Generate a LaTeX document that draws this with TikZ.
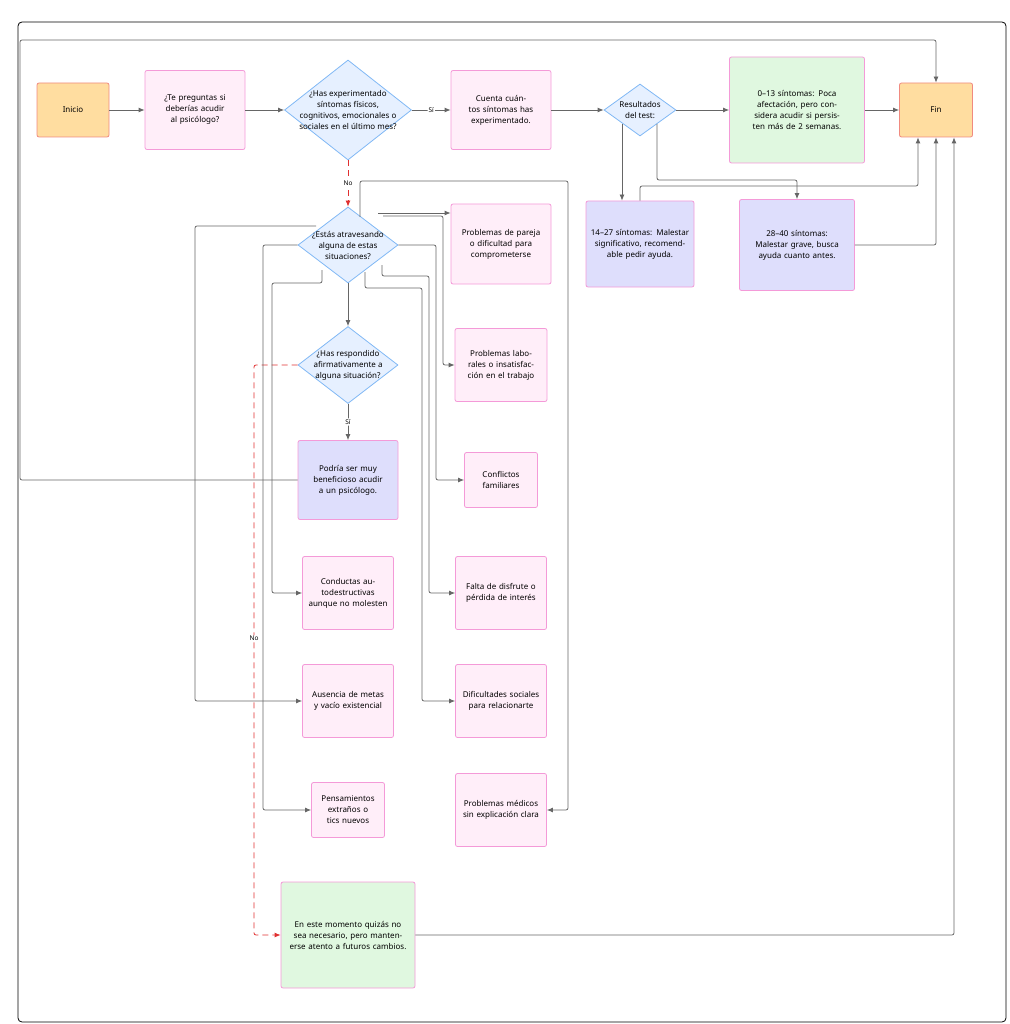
\documentclass[tikz,border=0pt]{standalone}
\usepackage{fontspec}
\setmainfont{Noto Sans}
\usetikzlibrary{shapes.geometric,arrows.meta}
\definecolor{pkf}{HTML}{FFEEF9}\definecolor{pkb}{HTML}{F49AD8}
\definecolor{lvf}{HTML}{DEDEFC}\definecolor{grf}{HTML}{E0F8E0}
\definecolor{orf}{HTML}{FFDDA0}\definecolor{orb}{HTML}{F08A80}
\definecolor{dmf}{HTML}{E6F0FF}\definecolor{dmb}{HTML}{80B8F5}
\definecolor{ln}{HTML}{666666}\definecolor{rd}{HTML}{E03030}
\begin{document}
\begin{tikzpicture}[x=1pt,y=-1pt,
 every node/.style={font=\fontsize{8}{11}\selectfont,align=center},
 box/.style={draw=pkb,fill=pkf,rounded corners=2pt,line width=0.8pt,inner sep=2pt},
 lav/.style={box,fill=lvf},grn/.style={box,fill=grf},
 ora/.style={draw=orb,fill=orf,rounded corners=2pt,line width=0.8pt},
 dia/.style={diamond,draw=dmb,fill=dmf,line width=0.8pt,inner sep=0pt,aspect=1.3},
 ar/.style={draw=ln,line width=0.8pt,-{Latex[length=6pt,width=5pt]},rounded corners=2pt},
 rar/.style={draw=rd,line width=0.8pt,dashed,dash pattern=on 6pt off 4pt,-{Latex[length=6pt,width=5pt]},rounded corners=2pt},
 lab/.style={fill=white,inner sep=1pt,font=\fontsize{6.5}{8}\selectfont\bfseries}]
\useasboundingbox (0,0) rectangle (1009,1024);
\draw[black,line width=0.8pt,rounded corners=4pt] (18,22) rectangle (1006,1022);
\node[ora,minimum width=72,minimum height=54] (ini) at (73,110) {Inicio};
\node[box,minimum width=100,minimum height=79,text width=92] (q1) at (195,110) {¿Te preguntas si deberías acudir al psicólogo?};
\node[dia,minimum width=127,minimum height=100] (d1) at (348,110) {};
\node at (348,110) {¿Has experimentado\\síntomas físicos,\\cognitivos, emocionales o\\sociales en el último mes?};
\node[box,minimum width=100,minimum height=79,text width=92] (cnt) at (501,110) {Cuenta cuántos síntomas has experimentado.};
\node[dia,minimum width=72,minimum height=52] (d2) at (640,110) {};
\node at (640,110) {Resultados\\del test:};
\node[grn,minimum width=135,minimum height=106,text width=120] (r1) at (797,110) {0–13 síntomas: Poca afectación, pero considera acudir si persisten más de 2 semanas.};
\node[ora,minimum width=73,minimum height=54] (fin) at (936,110) {Fin};
\node[lav,minimum width=108,minimum height=86,text width=100] (r2) at (640,244) {14–27 síntomas: Malestar significativo, recomendable pedir ayuda.};
\node[lav,minimum width=115,minimum height=91,text width=110] (r3) at (797,245) {28–40 síntomas: Malestar grave, busca ayuda cuanto antes.};
\node[dia,minimum width=100,minimum height=76] (d3) at (348,245) {};
\node at (348,245) {¿Estás atravesando\\alguna de estas\\situaciones?};
\node[dia,minimum width=100,minimum height=77] (d4) at (348,365) {};
\node at (348,365) {¿Has respondido\\afirmativamente a\\alguna situación?};
\node[lav,minimum width=100,minimum height=79,text width=92] (p1) at (348,480) {Podría ser muy beneficioso acudir a un psicólogo.};
\node[box,minimum width=100,minimum height=80,text width=90] (s1) at (501,244) {Problemas de pareja o dificultad para comprometerse};
\node[box,minimum width=91,minimum height=73,text width=88] (s2) at (501,365) {Problemas laborales o insatisfacción en el trabajo};
\node[box,minimum width=73,minimum height=55,text width=66] (s3) at (501,480) {Conflictos familiares};
\node[box,minimum width=91,minimum height=73,text width=82] (s4) at (501,593) {Falta de disfrute o pérdida de interés};
\node[box,minimum width=91,minimum height=73,text width=82] (s5) at (501,701) {Dificultades sociales para relacionarte};
\node[box,minimum width=91,minimum height=73,text width=82] (s6) at (501,810) {Problemas médicos sin explicación clara};
\node[box,minimum width=91,minimum height=73,text width=82] (s7) at (348,593) {Conductas autodestructivas aunque no molesten};
\node[box,minimum width=91,minimum height=73,text width=82] (s8) at (348,701) {Ausencia de metas y vacío existencial};
\node[box,minimum width=73,minimum height=55,text width=66] (s9) at (348,810) {Pensamientos extraños o tics nuevos};
\node[grn,minimum width=134,minimum height=106,text width=120] (e) at (348,935) {En este momento quizás no sea necesario, pero mantenerse atento a futuros cambios.};
% main flow
\draw[ar] (ini) -- (q1);
\draw[ar] (q1) -- (d1);
\draw[ar] (d1) -- node[lab]{Sí} (cnt);
\draw[ar] (cnt) -- (d2);
\draw[ar] (d2) -- (r1);
\draw[ar] (r1) -- (fin);
\draw[ar] (622,124) -- (r2.north -| 622,0);
\draw[ar] (657,124) -- (657,180) -- (797,180) -- (r3.north);
\draw[ar] (r2.north) -- (640,186) -- (918,186) -- (fin.south -| 918,0);
\draw[ar] (r3.east) -- (936,245) -- (fin.south);
\draw[ar] (e.east) -- (954,935) -- (fin.south -| 954,0);
\draw[ar] (p1.west) -- (20,480) -- (20,40) -- (936,40) -- (fin.north);
\draw[rar] (d1.south) -- node[lab,text=black]{No} (d3.north);
\draw[ar] (d3.south) -- (d4.north);
\draw[ar] (d4.south) -- node[lab]{Sí} (p1.north);
\draw[rar] (d4.west) -- (254,365) -- node[lab,text=black,pos=0.48]{No} (254,935) -- (e.west);
% situations
\draw[ar] (378,213) -- (s1.west |- 0,213);
\draw[ar] (383,216) -- (443,216) -- (443,365) -- (s2.west);
\draw[ar] (d3.east) -- (436,245) -- (436,480) -- (s3.west);
\draw[ar] (382,265) -- (382,276) -- (429,276) -- (429,593) -- (s4.west);
\draw[ar] (365,272) -- (365,288) -- (422,288) -- (422,701) -- (s5.west);
\draw[ar] (360,217) -- (360,181) -- (568,181) -- (568,810) -- (s6.east);
\draw[ar] (322,270) -- (322,283) -- (272,283) -- (272,593) -- (s7.west);
\draw[ar] (316,226) -- (195,226) -- (195,701) -- (s8.west);
\draw[ar] (d3.west) -- (263,245) -- (263,810) -- (s9.west);
\end{tikzpicture}
\end{document}
